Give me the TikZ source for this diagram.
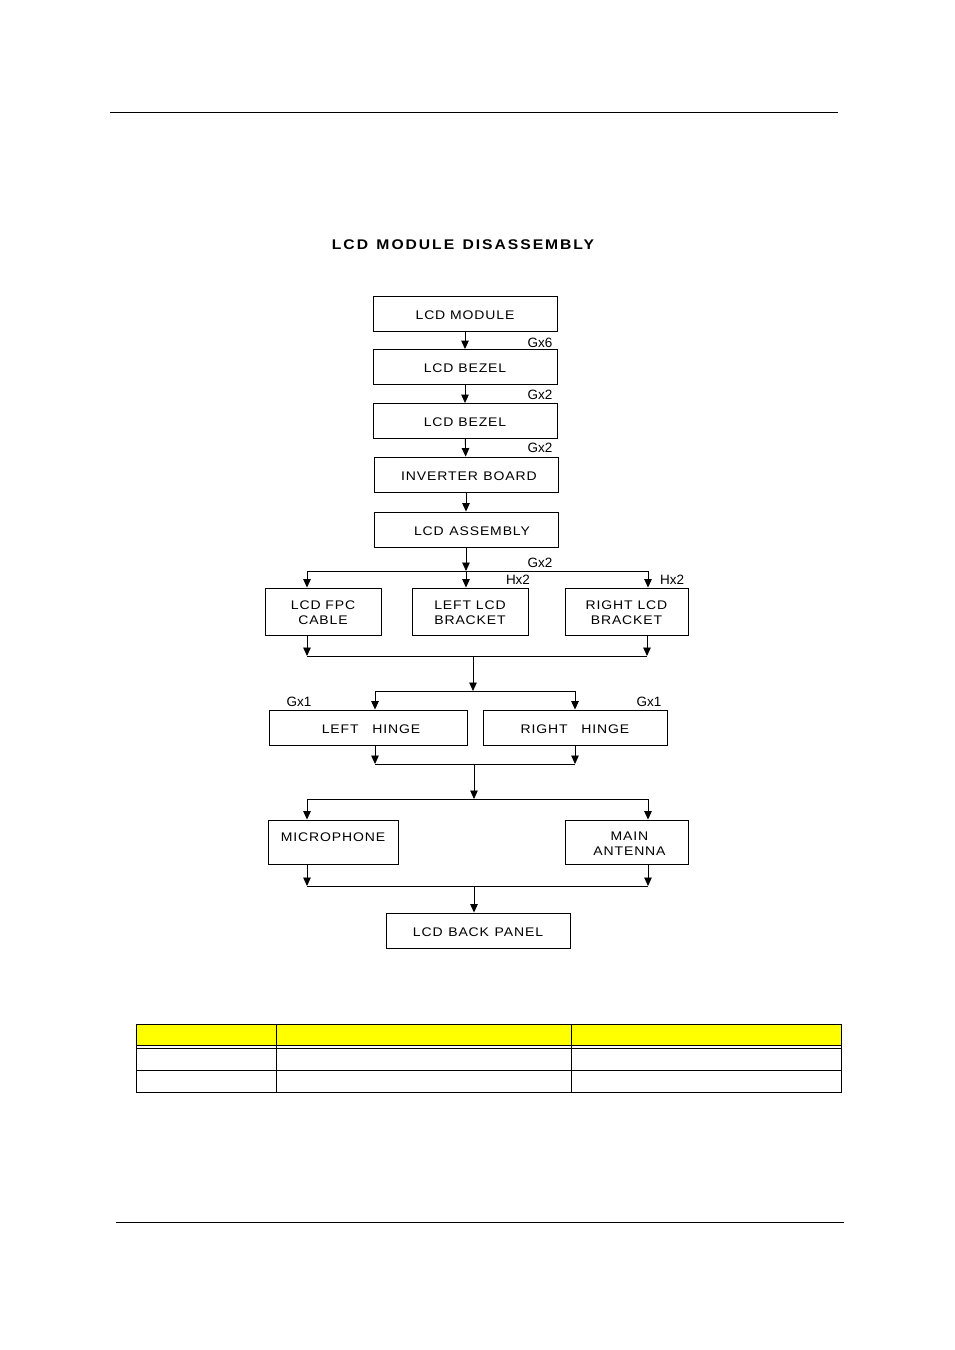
\documentclass[tikz,border=0pt]{standalone}
\usepackage{fontspec}
\setmainfont{Liberation Sans}
\newfontfamily\boxfont[FakeStretch=1.12, LetterSpace=7]{Liberation Sans}
\newfontfamily\titlefont[FakeStretch=1.12, LetterSpace=14]{Liberation Sans}
\usetikzlibrary{arrows.meta, positioning}
\definecolor{hdryellow}{RGB}{255, 255, 0}

\begin{document}
\begin{tikzpicture}[
  x=1pt, y=-1pt,
  part/.style={draw, line width=0.9pt, minimum width=184pt, minimum height=35pt, inner sep=0pt, text height=11.5pt, align=center, font=\fontsize{12.5}{15}\boxfont},
  twoline/.style={text height=27pt},
  qty/.style={font=\fontsize{13.5}{15}\selectfont, inner sep=0pt},
  flow/.style={line width=0.9pt, -{Triangle[length=8.5pt, width=7.5pt]}},
  bus/.style={line width=0.9pt}
]
  \useasboundingbox (0,0) rectangle (954,1350);

  % page rules
  \draw[bus] (110,112) -- (838,112);
  \draw[bus] (116,1222) -- (844,1222);

  % title
  \node[font=\fontsize{14}{16}\titlefont\bfseries] (title) at (463,245) {LCD\hspace{0.6em}MODULE\hspace{0.6em}DISASSEMBLY};

  % main chain
  \node[part] (mod) at (465,313.5) {LCD MODULE};
  \node[part] (bez1) at (465,367) {LCD BEZEL};
  \node[part] (bez2) at (465,421) {LCD BEZEL};
  \node[part] (inv) at (466,474.5) {\hspace*{6pt}INVERTER\hspace{0.45em}BOARD};
  \node[part] (asm) at (466,529.5) {\hspace*{12pt}LCD\hspace{0.45em}ASSEMBLY};
  \draw[flow] (mod) -- (bez1);
  \draw[flow] (bez1) -- (bez2);
  \draw[flow] (bez2) -- (inv);
  \draw[flow] (inv) -- (asm);
  \node[qty] (q1) at (540,343) {Gx6};
  \node[qty] (q2) at (540,395) {Gx2};
  \node[qty] (q3) at (540,448) {Gx2};

  % cable and brackets
  \node[part, twoline, minimum width=116pt, minimum height=47pt] (fpc) at (323,611.5) {LCD FPC\\CABLE};
  \node[part, twoline, minimum width=116pt, minimum height=47pt] (lbr) at (470,611.5) {LEFT LCD\\BRACKET};
  \node[part, twoline, minimum width=123pt, minimum height=47pt] (rbr) at (626.5,611.5) {RIGHT LCD\\BRACKET};
  \coordinate (s1) at (466,571);
  \coordinate (s1l) at (307,571);
  \coordinate (s1r) at (648,571);
  \draw[flow] (asm) -- (s1);
  \draw[bus] (s1l) -- (s1r);
  \draw[flow] (s1l) -- (s1l |- fpc.north);
  \draw[flow] (s1) -- (s1 |- lbr.north);
  \draw[flow] (s1r) -- (s1r |- rbr.north);
  \node[qty] (q4) at (540,563) {Gx2};
  \node[qty] (q5) at (518,580) {Hx2};
  \node[qty] (q6) at (672,580) {Hx2};

  \coordinate (m1) at (473,656);
  \coordinate (m1l) at (307,656);
  \coordinate (m1r) at (647,656);
  \draw[flow] (m1l |- fpc.south) -- (m1l);
  \draw[flow] (m1r |- rbr.south) -- (m1r);
  \draw[bus] (m1l) -- (m1r);

  % hinges
  \node[part, minimum width=198pt] (lhg) at (368,727.5) {\hspace*{6pt}LEFT\hspace{1.1em}HINGE};
  \node[part] (rhg) at (575,727.5) {RIGHT\hspace{1.1em}HINGE};
  \coordinate (s2) at (473,691);
  \coordinate (s2l) at (375,691);
  \coordinate (s2r) at (575,691);
  \draw[flow] (m1) -- (s2);
  \draw[bus] (s2l) -- (s2r);
  \draw[flow] (s2l) -- (s2l |- lhg.north);
  \draw[flow] (s2r) -- (s2r |- rhg.north);
  \node[qty] (q7) at (299,702) {Gx1};
  \node[qty] (q8) at (649,702) {Gx1};

  \coordinate (m2) at (474,764);
  \coordinate (m2l) at (375,764);
  \coordinate (m2r) at (575,764);
  \draw[flow] (m2l |- lhg.south) -- (m2l);
  \draw[flow] (m2r |- rhg.south) -- (m2r);
  \draw[bus] (m2l) -- (m2r);

  % microphone and antenna
  \node[part, text height=9pt, text depth=10pt, minimum width=130pt, minimum height=44pt] (mic) at (333,842) {MICROPHONE};
  \node[part, twoline, minimum width=123pt, minimum height=44pt] (ant) at (626.5,842) {\hspace*{6pt}MAIN\\\hspace*{6pt}ANTENNA};
  \coordinate (s3) at (474,799);
  \coordinate (s3l) at (307,799);
  \coordinate (s3r) at (648,799);
  \draw[flow] (m2) -- (s3);
  \draw[bus] (s3l) -- (s3r);
  \draw[flow] (s3l) -- (s3l |- mic.north);
  \draw[flow] (s3r) -- (s3r |- ant.north);

  \coordinate (m3) at (474,886);
  \coordinate (m3l) at (307,886);
  \coordinate (m3r) at (648,886);
  \draw[flow] (m3l |- mic.south) -- (m3l);
  \draw[flow] (m3r |- ant.south) -- (m3r);
  \draw[bus] (m3l) -- (m3r);

  % back panel
  \node[part] (back) at (478,930.5) {LCD\hspace{0.45em}BACK\hspace{0.45em}PANEL};
  \draw[flow] (m3) -- (m3 |- back.north);

  % empty table
  \fill[hdryellow] (136,1024) rectangle (841,1045);
  \draw[bus] (136,1024) rectangle (841,1092);
  \draw[bus] (136,1045) -- (841,1045);
  \draw[bus] (136,1048.5) -- (841,1048.5);
  \draw[bus] (136,1070) -- (841,1070);
  \draw[bus] (276,1024) -- (276,1092);
  \draw[bus] (571,1024) -- (571,1092);
\end{tikzpicture}
\end{document}
